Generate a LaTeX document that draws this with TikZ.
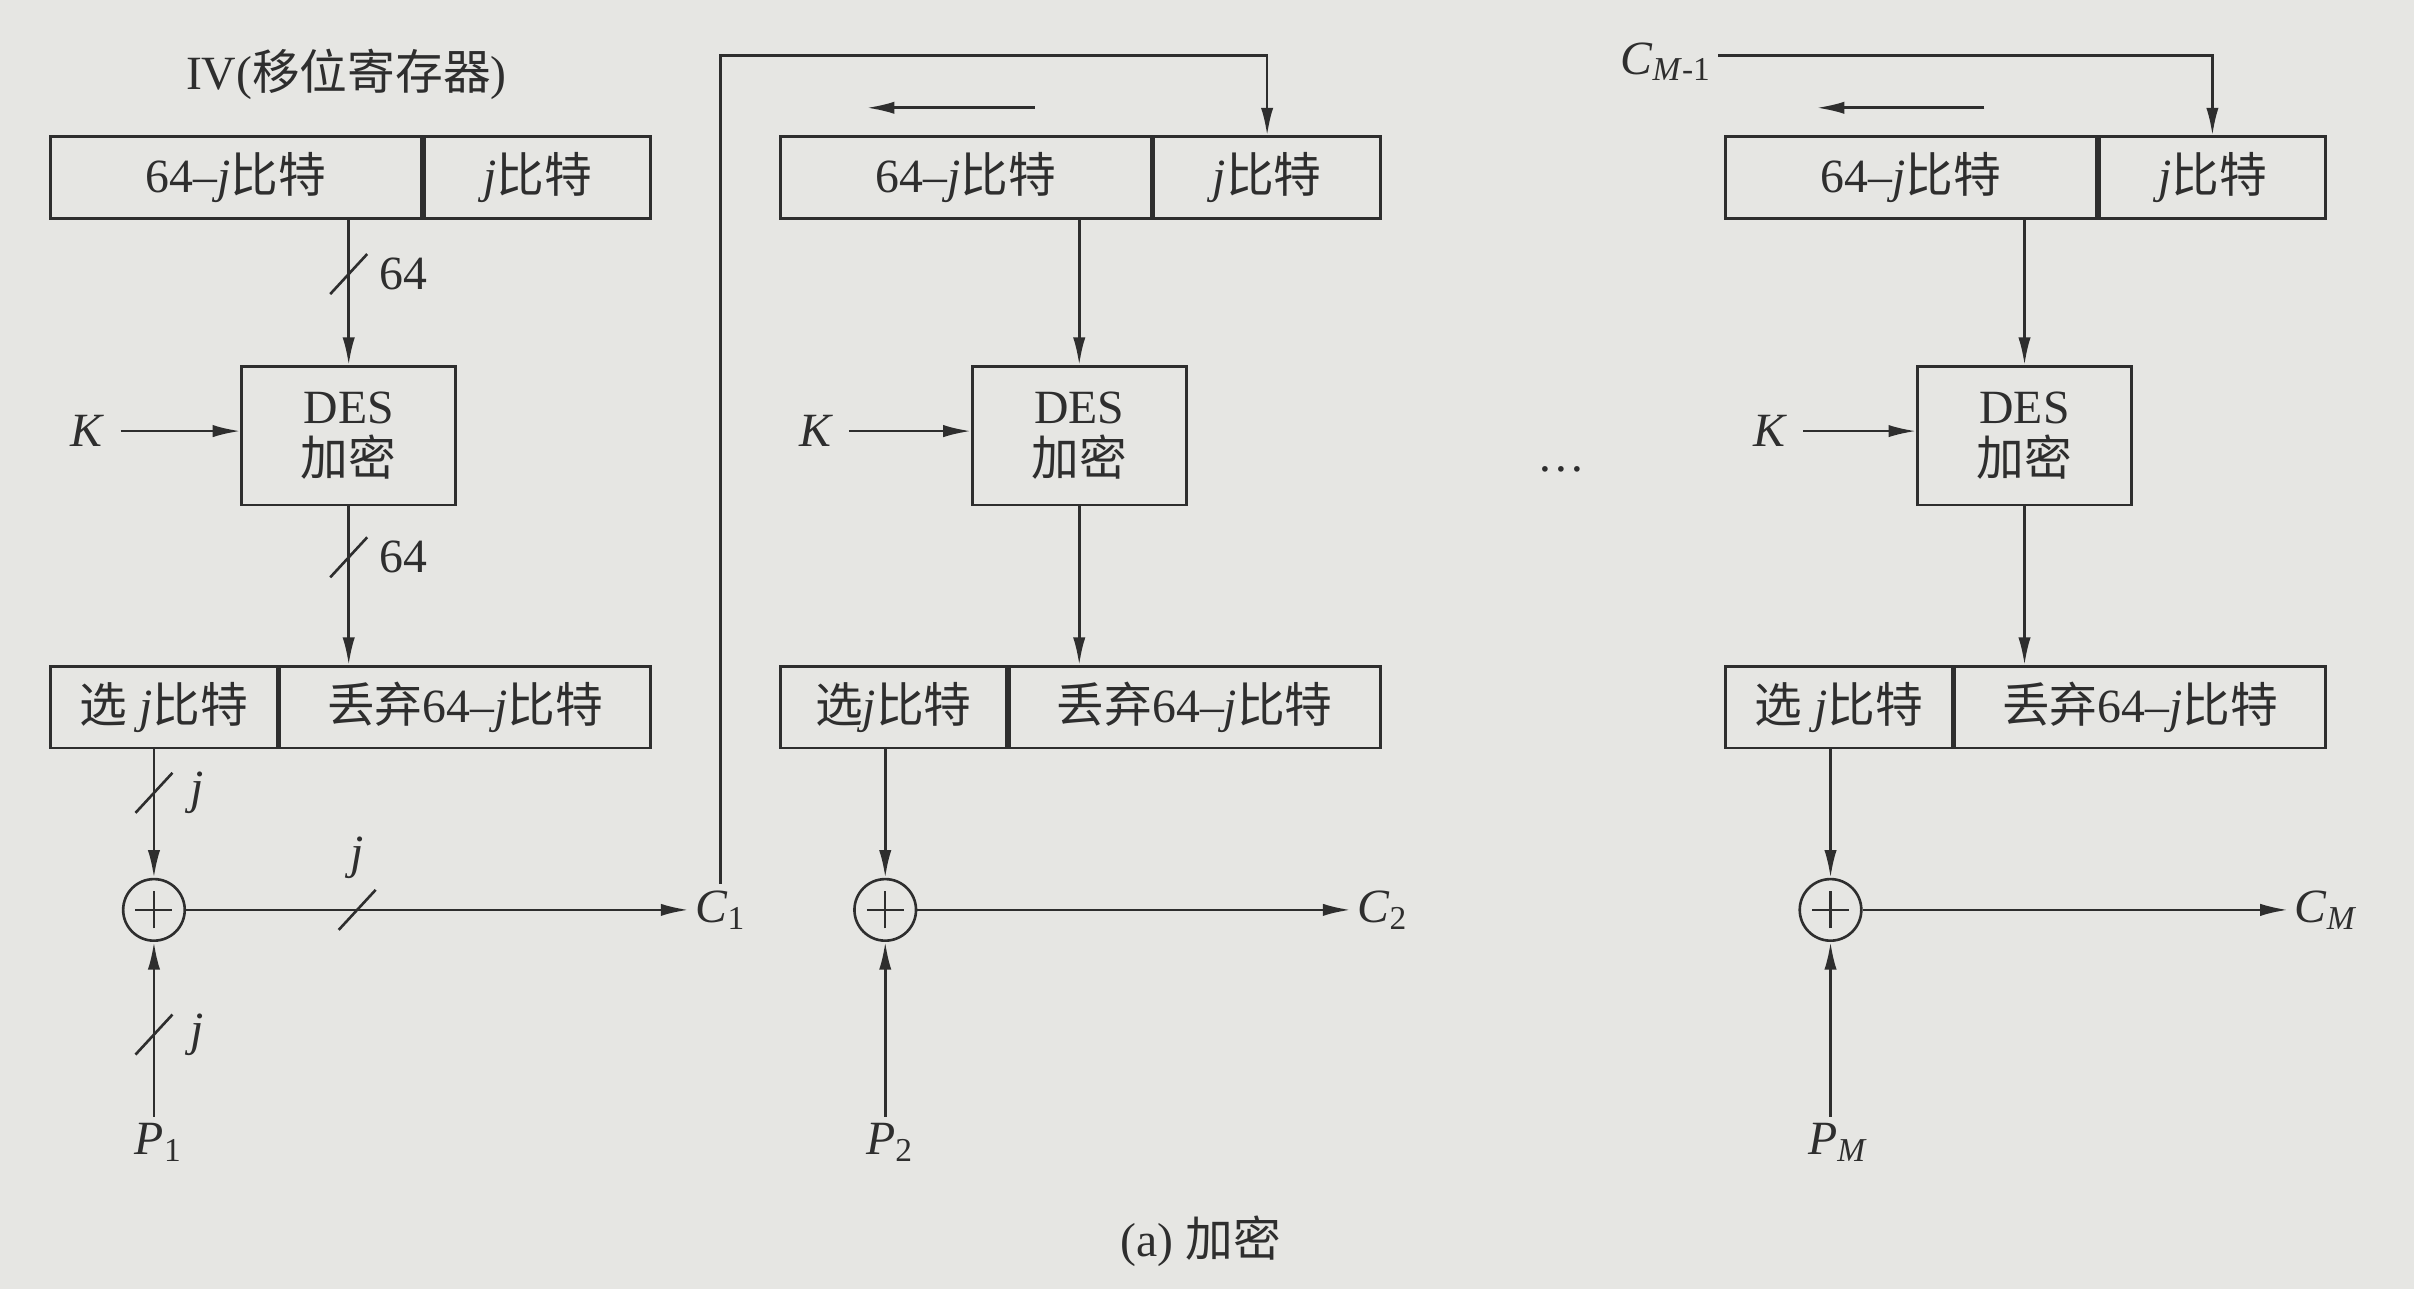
\documentclass[tikz,border=0pt]{standalone}
\usepackage{fontspec}
\setmainfont{Liberation Serif}
\newfontfamily\cjk{Noto Sans CJK SC}
\usetikzlibrary{arrows.meta}
\definecolor{paper}{HTML}{E6E6E3}
\definecolor{ink}{HTML}{2E2E2E}
\newcommand{\zh}[1]{{\cjk #1}}
\newcommand{\vj}{\textit{j}}

\begin{document}
\begin{tikzpicture}[x=0.5pt,y=-0.5pt,
  font=\fontsize{15.5}{17}\selectfont, text=ink,
  wire/.style={draw=ink, line width=0.85pt},
  arr/.style={wire, -{Latex[length=9pt,width=4pt]}},
  cell/.style={draw=ink, line width=0.85pt, rectangle, inner sep=0pt,
               minimum height=26.5pt},
  widecell/.style={cell, minimum width=120.5pt},
  narrowcell/.style={cell, minimum width=73.5pt},
  desbox/.style={draw=ink, line width=0.85pt, rectangle, inner sep=0pt,
                 minimum width=69.5pt, minimum height=45pt, align=center},
  xor/.style={draw=ink, line width=0.85pt, circle, inner sep=0pt,
              minimum size=20pt,
              path picture={\draw[ink, line width=0.7pt]
                ([xshift=-6pt]path picture bounding box.center) --
                ([xshift=6pt]path picture bounding box.center)
                ([yshift=-6pt]path picture bounding box.center) --
                ([yshift=6pt]path picture bounding box.center);}},
  lbl/.style={inner sep=2pt},
  busmark/.pic={\draw[wire] (-12,13) -- (12,-13);}
]
% canvas
\fill[paper] (0,0) rectangle (1568,837);
\useasboundingbox (0,0) rectangle (1568,837);

\coordinate (fbline) at (0,36);

% ---------------- stage 1 ----------------
\node[lbl] (iv) at (225,48) {IV(\zh{移位寄存器})};
\node[widecell, anchor=north west] (t1a) at (32,88) {64–\vj\zh{比特}};
\node[narrowcell, anchor=west] (t1b) at (t1a.east) {\vj\zh{比特}};
\node[desbox] (d1) at (226.5,283) {DES\\\zh{加密}};
\node[lbl] (k1) at (57,280) {\textit{K}};
\node[narrowcell, anchor=north west] (b1a) at (32,432) {\zh{选} \vj\zh{比特}};
\node[widecell, anchor=west] (b1b) at (b1a.east) {\zh{丢弃}64–\vj\zh{比特}};
\node[xor] (x1) at (100,591) {};
\node[lbl] (c1) at (468,591) {\textit{C}\textsubscript{1}};
\node[lbl] (p1) at (103,742) {\textit{P}\textsubscript{1}};

\draw[arr] (t1a.south -| d1.north) -- (d1.north);
\draw[arr] ([xshift=3pt]k1.east) -- (d1.west |- k1.east);
\draw[arr] (d1.south) -- (b1b.north -| d1.south);
\draw[arr] (b1a.south -| x1.north) -- (x1.north);
\draw[arr] (p1.north -| x1.south) -- (x1.south);
\draw[arr] (x1.east) -- (c1.west);

\pic at (226.5,178) {busmark};
\node[lbl] (n64a) at (262,178) {64};
\pic at (226.5,362) {busmark};
\node[lbl] (n64b) at (262,362) {64};
\pic at (100,515) {busmark};
\node[lbl] (nja) at (128,515) {\vj};
\pic at (232,591) {busmark};
\node[lbl] (njb) at (232,557) {\vj};
\pic at (100,672) {busmark};
\node[lbl] (njc) at (128,672) {\vj};

% ---------------- stage 2 ----------------
\node[widecell, anchor=north west] (t2a) at (506,88) {64–\vj\zh{比特}};
\node[narrowcell, anchor=west] (t2b) at (t2a.east) {\vj\zh{比特}};
\node[desbox] (d2) at (701,283) {DES\\\zh{加密}};
\node[lbl] (k2) at (530,280) {\textit{K}};
\node[narrowcell, anchor=north west] (b2a) at (506,432) {\zh{选}\vj\zh{比特}};
\node[widecell, anchor=west] (b2b) at (b2a.east) {\zh{丢弃}64–\vj\zh{比特}};
\node[xor] (x2) at (575,591) {};
\node[lbl] (c2) at (898,591) {\textit{C}\textsubscript{2}};
\node[lbl] (p2) at (578,742) {\textit{P}\textsubscript{2}};
\coordinate (s2a) at (672,70);
\coordinate (s2b) at (563,70);

% feedback of C1 into stage 2
\draw[arr] (c1.north) |- (t2b.north |- fbline) -- (t2b.north);

\draw[arr] (s2a) -- (s2b);
\draw[arr] (t2a.south -| d2.north) -- (d2.north);
\draw[arr] ([xshift=3pt]k2.east) -- (d2.west |- k2.east);
\draw[arr] (d2.south) -- (b2b.north -| d2.south);
\draw[arr] (b2a.south -| x2.north) -- (x2.north);
\draw[arr] (p2.north -| x2.south) -- (x2.south);
\draw[arr] (x2.east) -- (c2.west);

\node[lbl] (dots) at (1014,305) {\ldots};

% ---------------- stage M ----------------
\node[lbl, anchor=east] (cm1) at (1116,40) {\textit{C}\textsubscript{\textit{M}-1}};
\node[widecell, anchor=north west] (t3a) at (1120,88) {64–\vj\zh{比特}};
\node[narrowcell, anchor=west] (t3b) at (t3a.east) {\vj\zh{比特}};
\node[desbox] (d3) at (1315,283) {DES\\\zh{加密}};
\node[lbl] (k3) at (1150,280) {\textit{K}};
\node[narrowcell, anchor=north west] (b3a) at (1120,432) {\zh{选} \vj\zh{比特}};
\node[widecell, anchor=west] (b3b) at (b3a.east) {\zh{丢弃}64–\vj\zh{比特}};
\node[xor] (x3) at (1189,591) {};
\node[lbl] (c3) at (1511,591) {\textit{C}\textsubscript{\textit{M}}};
\node[lbl] (p3) at (1194,742) {\textit{P}\textsubscript{\textit{M}}};
\coordinate (s3a) at (1289,70);
\coordinate (s3b) at (1180,70);

\draw[arr] (cm1.east |- fbline) -| (t3b.north);
\draw[arr] (s3a) -- (s3b);
\draw[arr] (t3a.south -| d3.north) -- (d3.north);
\draw[arr] ([xshift=3pt]k3.east) -- (d3.west |- k3.east);
\draw[arr] (d3.south) -- (b3b.north -| d3.south);
\draw[arr] (b3a.south -| x3.north) -- (x3.north);
\draw[arr] (p3.north -| x3.south) -- (x3.south);
\draw[arr] (x3.east) -- (c3.west);

% caption
\node[lbl] (cap) at (780,806) {(a) \zh{加密}};
\end{tikzpicture}
\end{document}
